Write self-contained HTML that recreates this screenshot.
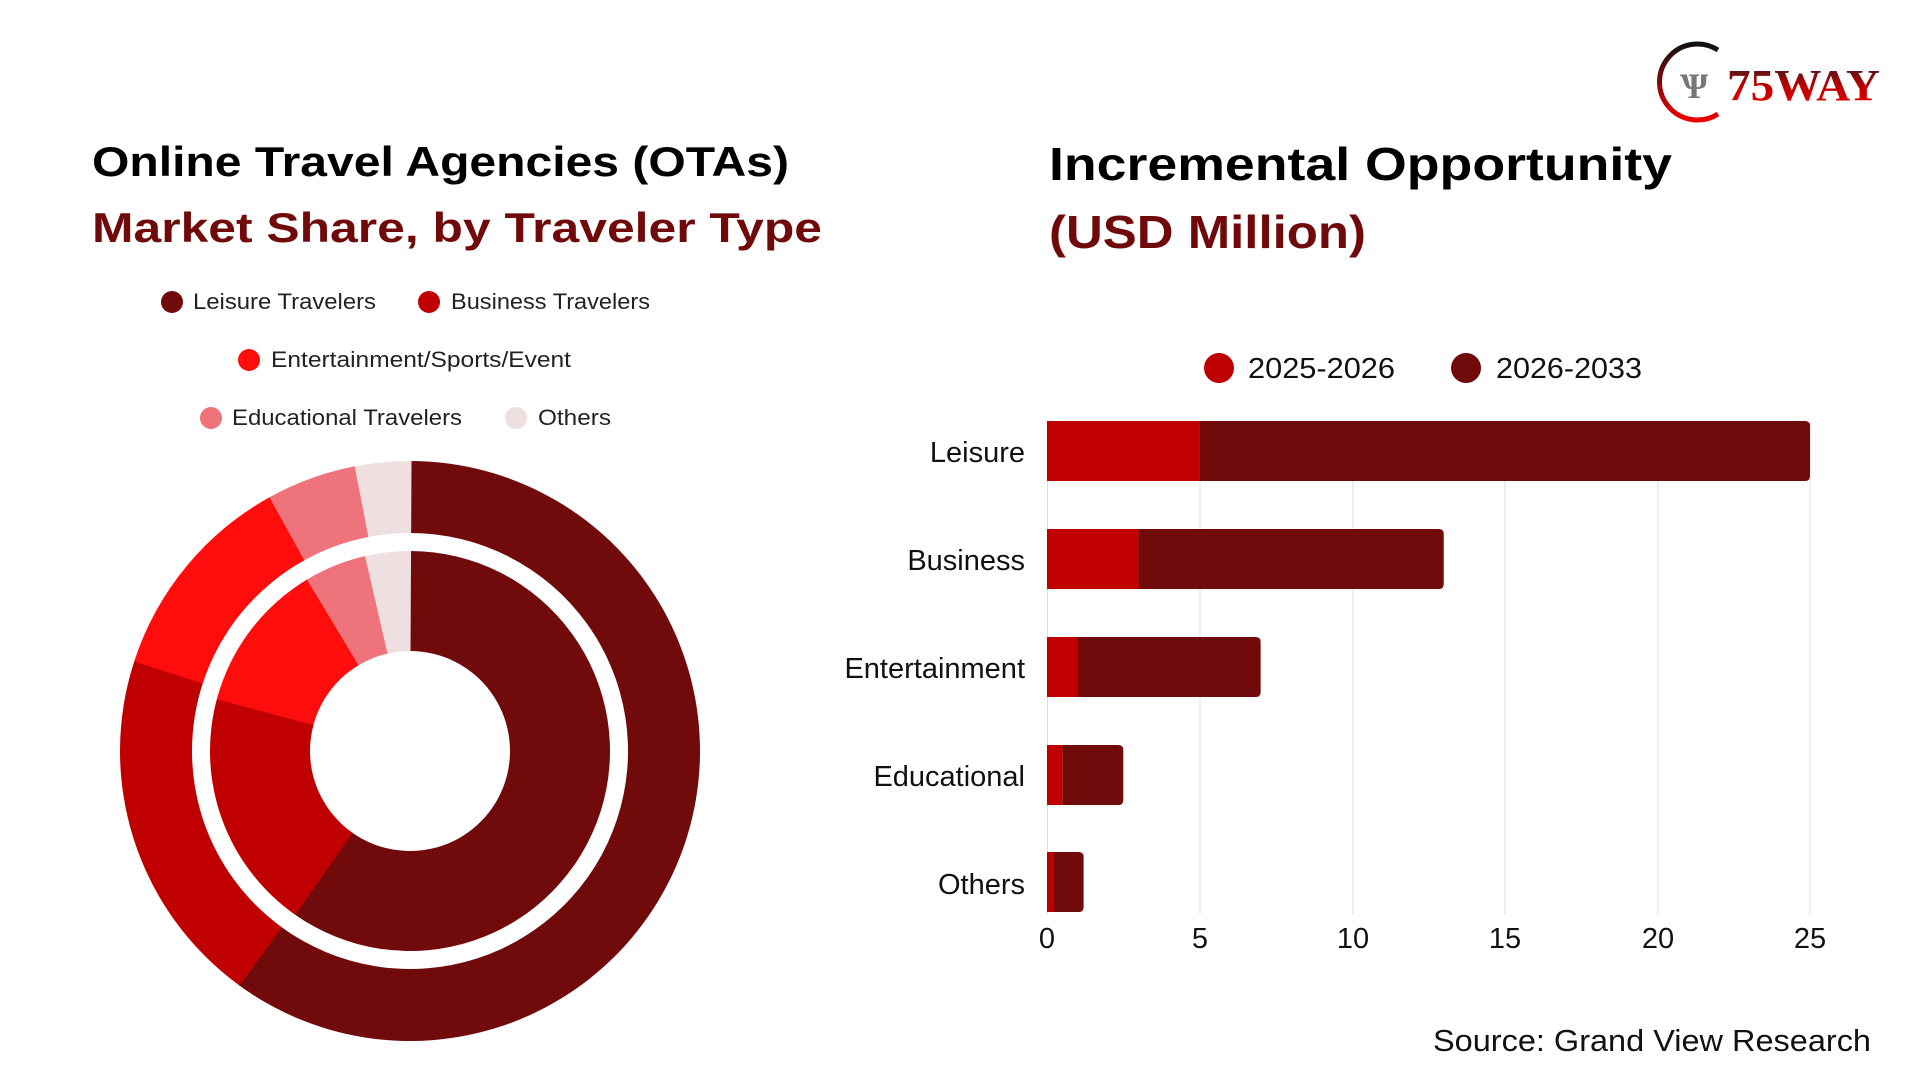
<!DOCTYPE html>
<html><head><meta charset="utf-8"><style>
html,body{margin:0;padding:0;background:#fff;}
svg{display:block;font-family:"Liberation Sans",sans-serif;}
</style></head><body>
<svg id="s" width="1920" height="1080" viewBox="0 0 1920 1080" xmlns="http://www.w3.org/2000/svg">
<defs>
<linearGradient id="lg" x1="0" y1="0" x2="0" y2="1"><stop offset="0" stop-color="#222"/><stop offset="0.5" stop-color="#b00"/><stop offset="1" stop-color="#e00"/></linearGradient>
<linearGradient id="ag" x1="0" y1="0" x2="0" y2="1"><stop offset="0" stop-color="#111"/><stop offset="1" stop-color="#e00"/></linearGradient>
</defs>
<path d="M1718,50 A38,38 0 1 0 1718,114" fill="none" stroke="url(#ag)" stroke-width="5"/>
<text x="1680" y="98" font-family="Liberation Serif,serif" font-weight="bold" font-size="36" fill="#777">Ѱ</text>
<text x="1727" y="100" font-family="Liberation Serif,serif" font-weight="bold" font-size="44" fill="url(#lg)" textLength="153" lengthAdjust="spacingAndGlyphs">75WAY</text>
<text x="92" y="176" font-weight="bold" font-size="42" fill="#000" textLength="697" lengthAdjust="spacingAndGlyphs">Online Travel Agencies (OTAs)</text>
<text x="92" y="242" font-weight="bold" font-size="42" fill="#700a0a" textLength="730" lengthAdjust="spacingAndGlyphs">Market Share, by Traveler Type</text>
<text x="1049" y="180" font-weight="bold" font-size="46" fill="#000" textLength="623" lengthAdjust="spacingAndGlyphs">Incremental Opportunity</text>
<text x="1049" y="248" font-weight="bold" font-size="46" fill="#700a0a" textLength="317" lengthAdjust="spacingAndGlyphs">(USD Million)</text>
<g font-size="22" fill="#222">
<circle cx="172" cy="302" r="11" fill="#710a0b"/><text x="193" y="309" textLength="183" lengthAdjust="spacingAndGlyphs">Leisure Travelers</text>
<circle cx="429" cy="302" r="11" fill="#c00000"/><text x="451" y="309" textLength="199" lengthAdjust="spacingAndGlyphs">Business Travelers</text>
<circle cx="249" cy="360" r="11" fill="#ff0d0d"/><text x="271" y="367" textLength="300" lengthAdjust="spacingAndGlyphs">Entertainment/Sports/Event</text>
<circle cx="211" cy="418" r="11" fill="#ee737b"/><text x="232" y="425" textLength="230" lengthAdjust="spacingAndGlyphs">Educational Travelers</text>
<circle cx="516" cy="418" r="11" fill="#eedfe0"/><text x="538" y="425" textLength="73" lengthAdjust="spacingAndGlyphs">Others</text>
</g>
<g id="donut"></g>
<g stroke="#ddd" stroke-width="1">
<line x1="1047.5" y1="422" x2="1047.5" y2="914"/><line x1="1200" y1="422" x2="1200" y2="914"/><line x1="1353" y1="422" x2="1353" y2="914"/><line x1="1505" y1="422" x2="1505" y2="914"/><line x1="1658" y1="422" x2="1658" y2="914"/><line x1="1810" y1="422" x2="1810" y2="914"/>
</g>
<g id="bars"></g>
<g font-size="29" fill="#111" text-anchor="end">
<text x="1025" y="462">Leisure</text><text x="1025" y="570">Business</text><text x="1025" y="678">Entertainment</text><text x="1025" y="786">Educational</text><text x="1025" y="894">Others</text>
</g>
<g font-size="29" fill="#111" text-anchor="middle">
<text x="1047" y="948">0</text><text x="1200" y="948">5</text><text x="1353" y="948">10</text><text x="1505" y="948">15</text><text x="1658" y="948">20</text><text x="1810" y="948">25</text>
</g>
<circle cx="1219" cy="368" r="15" fill="#c00000"/><text x="1248" y="378" font-size="29" fill="#111" textLength="147" lengthAdjust="spacingAndGlyphs">2025-2026</text>
<circle cx="1466" cy="368" r="15" fill="#710a0b"/><text x="1496" y="378" font-size="29" fill="#111" textLength="146" lengthAdjust="spacingAndGlyphs">2026-2033</text>
<text x="1871" y="1051" font-size="31" fill="#111" text-anchor="end" textLength="438" lengthAdjust="spacingAndGlyphs">Source: Grand View Research</text>
</svg>
<script>
var NS="http://www.w3.org/2000/svg";
function seg(cx,cy,r0,r1,a0,a1,col){
 function p(r,a){a=a*Math.PI/180;return [cx+r*Math.sin(a),cy-r*Math.cos(a)];}
 var l=(a1-a0)>180?1:0,A=p(r1,a0),B=p(r1,a1),C=p(r0,a1),D=p(r0,a0);
 var e=document.createElementNS(NS,"path");
 e.setAttribute("d","M"+A+" A"+r1+","+r1+" 0 "+l+" 1 "+B+" L"+C+" A"+r0+","+r0+" 0 "+l+" 0 "+D+"Z");
 e.setAttribute("fill",col);document.getElementById("donut").appendChild(e);}
var cols=["#710a0b","#c00000","#ff0d0d","#ee737b","#eedfe0"];
var outer=[0,216,288,331,349,360],inner=[0,215,285,329,347,360];
for(var i=0;i<5;i++){seg(410,751,218,290,outer[i],outer[i+1]+0.3,cols[i]);seg(410,751,100,200,inner[i],inner[i+1]+0.3,cols[i]);}
var bars=[[5,25,451],[3,13,559],[1,7,667],[0.5,2.5,775],[0.2,1.2,882]];
var x0=1047,u=30.52,h=60,g=document.getElementById("bars");
bars.forEach(function(b){
 var y=b[2]-h/2,xa=x0+b[0]*u,xb=x0+b[1]*u,r=5;
 var d=document.createElementNS(NS,"path");
 d.setAttribute("d","M"+xa+","+y+" H"+(xb-r)+" Q"+xb+","+y+" "+xb+","+(y+r)+" V"+(y+h-r)+" Q"+xb+","+(y+h)+" "+(xb-r)+","+(y+h)+" H"+xa+"Z");
 d.setAttribute("fill","#710a0b");g.appendChild(d);
 var a=document.createElementNS(NS,"rect");
 a.setAttribute("x",x0);a.setAttribute("y",y);a.setAttribute("width",b[0]*u);a.setAttribute("height",h);a.setAttribute("fill","#c00000");g.appendChild(a);
});
</script>
</body></html>
